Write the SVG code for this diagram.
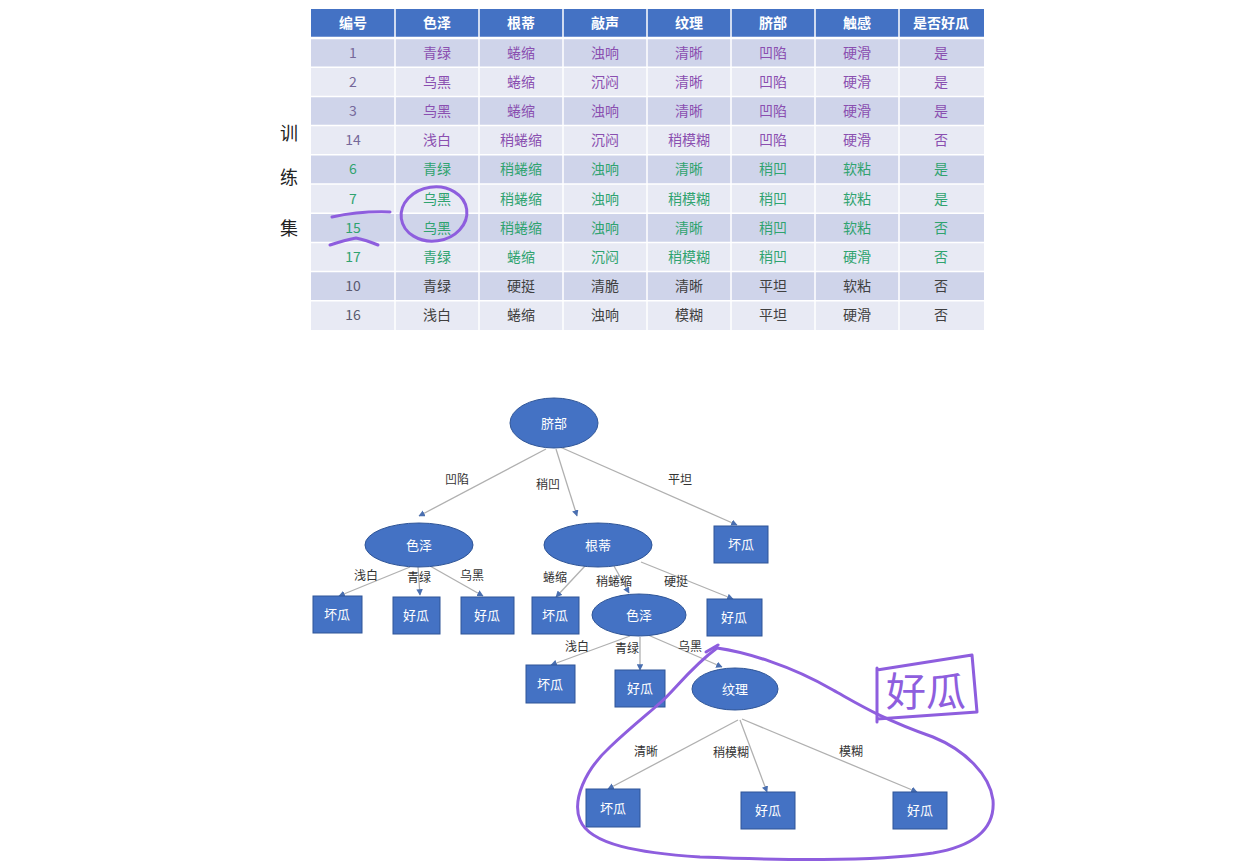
<svg xmlns="http://www.w3.org/2000/svg" width="1253" height="866" viewBox="0 0 1253 866">
<defs>
<style>
.cjk{font-family:"Noto Sans CJK SC","Noto Sans",sans-serif}
.th{font-family:"Noto Sans CJK SC",sans-serif;font-size:14px;font-weight:bold;fill:#fff;text-anchor:middle}
.td{font-family:"Noto Sans CJK SC",sans-serif;font-size:14px;text-anchor:middle}
.p{fill:#8a4fb0}
.g{fill:#2fa36f}
.k{fill:#404040}
.rd{fill:#cfd4ea}
.rl{fill:#e8eaf4}
.node{fill:#4472c4;stroke:#2f5597;stroke-width:1}
.nt{font-family:"Noto Sans CJK SC",sans-serif;font-size:13px;fill:#fff;text-anchor:middle}
.el{font-family:"Noto Sans CJK SC",sans-serif;font-size:12px;fill:#333;text-anchor:middle}
.ln{stroke:#b0b0b0;stroke-width:1.3;fill:none;marker-end:url(#ah)}
.hand{stroke:#8e5ede;stroke-width:3;fill:none;stroke-linecap:round;stroke-linejoin:round}
</style>
<marker id="ah" viewBox="0 0 10 10" refX="9" refY="5" markerWidth="5" markerHeight="5" orient="auto"><path d="M0,0 L10,5 L0,10 z" fill="#4a6fb0"/></marker>
</defs>
<rect width="1253" height="866" fill="#ffffff"/>

<g id="table">
<rect x="311" y="9" width="673" height="29" fill="#4472c4"/>
<rect class="rd" x="311" y="38" width="673" height="29.2"/>
<rect class="rl" x="311" y="67.2" width="673" height="29.2"/>
<rect class="rd" x="311" y="96.4" width="673" height="29.2"/>
<rect class="rl" x="311" y="125.6" width="673" height="29.2"/>
<rect class="rd" x="311" y="154.8" width="673" height="29.2"/>
<rect class="rl" x="311" y="184" width="673" height="29.2"/>
<rect class="rd" x="311" y="213.2" width="673" height="29.2"/>
<rect class="rl" x="311" y="242.4" width="673" height="29.2"/>
<rect class="rd" x="311" y="271.6" width="673" height="29.2"/>
<rect class="rl" x="311" y="300.8" width="673" height="29.2"/>
<g stroke="#ffffff" stroke-width="1.5">
<line x1="395" y1="9" x2="395" y2="330"/><line x1="479" y1="9" x2="479" y2="330"/><line x1="563" y1="9" x2="563" y2="330"/><line x1="647" y1="9" x2="647" y2="330"/><line x1="731" y1="9" x2="731" y2="330"/><line x1="815" y1="9" x2="815" y2="330"/><line x1="899" y1="9" x2="899" y2="330"/>
<line x1="311" y1="38" x2="984" y2="38" stroke-width="2.5"/>
<line x1="311" y1="67.2" x2="984" y2="67.2"/><line x1="311" y1="96.4" x2="984" y2="96.4"/><line x1="311" y1="125.6" x2="984" y2="125.6"/><line x1="311" y1="154.8" x2="984" y2="154.8"/><line x1="311" y1="184" x2="984" y2="184"/><line x1="311" y1="213.2" x2="984" y2="213.2"/><line x1="311" y1="242.4" x2="984" y2="242.4"/><line x1="311" y1="271.6" x2="984" y2="271.6"/><line x1="311" y1="300.8" x2="984" y2="300.8"/>
</g>
<g class="th">
<text x="353" y="28">编号</text><text x="437" y="28">色泽</text><text x="521" y="28">根蒂</text><text x="605" y="28">敲声</text><text x="689" y="28">纹理</text><text x="773" y="28">脐部</text><text x="857" y="28">触感</text><text x="941" y="28">是否好瓜</text>
</g>
<g class="td p">
<text x="353" y="58" fill="#75689a">1</text><text x="437" y="58">青绿</text><text x="521" y="58">蜷缩</text><text x="605" y="58">浊响</text><text x="689" y="58">清晰</text><text x="773" y="58">凹陷</text><text x="857" y="58">硬滑</text><text x="941" y="58">是</text>
<text x="353" y="87" fill="#75689a">2</text><text x="437" y="87">乌黑</text><text x="521" y="87">蜷缩</text><text x="605" y="87">沉闷</text><text x="689" y="87">清晰</text><text x="773" y="87">凹陷</text><text x="857" y="87">硬滑</text><text x="941" y="87">是</text>
<text x="353" y="116" fill="#75689a">3</text><text x="437" y="116">乌黑</text><text x="521" y="116">蜷缩</text><text x="605" y="116">浊响</text><text x="689" y="116">清晰</text><text x="773" y="116">凹陷</text><text x="857" y="116">硬滑</text><text x="941" y="116">是</text>
<text x="353" y="145" fill="#75689a">14</text><text x="437" y="145">浅白</text><text x="521" y="145">稍蜷缩</text><text x="605" y="145">沉闷</text><text x="689" y="145">稍模糊</text><text x="773" y="145">凹陷</text><text x="857" y="145">硬滑</text><text x="941" y="145">否</text>
</g>
<g class="td g">
<text x="353" y="174">6</text><text x="437" y="174">青绿</text><text x="521" y="174">稍蜷缩</text><text x="605" y="174">浊响</text><text x="689" y="174">清晰</text><text x="773" y="174">稍凹</text><text x="857" y="174">软粘</text><text x="941" y="174">是</text>
<text x="353" y="204">7</text><text x="437" y="204">乌黑</text><text x="521" y="204">稍蜷缩</text><text x="605" y="204">浊响</text><text x="689" y="204">稍模糊</text><text x="773" y="204">稍凹</text><text x="857" y="204">软粘</text><text x="941" y="204">是</text>
<text x="353" y="233">15</text><text x="437" y="233">乌黑</text><text x="521" y="233">稍蜷缩</text><text x="605" y="233">浊响</text><text x="689" y="233">清晰</text><text x="773" y="233">稍凹</text><text x="857" y="233">软粘</text><text x="941" y="233">否</text>
<text x="353" y="262">17</text><text x="437" y="262">青绿</text><text x="521" y="262">蜷缩</text><text x="605" y="262">沉闷</text><text x="689" y="262">稍模糊</text><text x="773" y="262">稍凹</text><text x="857" y="262">硬滑</text><text x="941" y="262">否</text>
</g>
<g class="td k">
<text x="353" y="291" fill="#5a5a70">10</text><text x="437" y="291">青绿</text><text x="521" y="291">硬挺</text><text x="605" y="291">清脆</text><text x="689" y="291">清晰</text><text x="773" y="291">平坦</text><text x="857" y="291">软粘</text><text x="941" y="291">否</text>
<text x="353" y="320" fill="#5a5a70">16</text><text x="437" y="320">浅白</text><text x="521" y="320">蜷缩</text><text x="605" y="320">浊响</text><text x="689" y="320">模糊</text><text x="773" y="320">平坦</text><text x="857" y="320">硬滑</text><text x="941" y="320">否</text>
</g>
</g>

<g id="set-label" class="cjk" font-size="18" fill="#222" text-anchor="middle">
<text x="289" y="140">训</text><text x="289" y="184">练</text><text x="289" y="235">集</text>
</g>

<g id="connectors">
<line class="ln" x1="546" y1="449" x2="419" y2="516"/>
<line class="ln" x1="556" y1="449" x2="577" y2="516"/>
<line class="ln" x1="560" y1="447" x2="737" y2="525"/>
<line class="ln" x1="410" y1="567" x2="339" y2="596"/>
<line class="ln" x1="418" y1="567" x2="420" y2="595"/>
<line class="ln" x1="430" y1="566" x2="483" y2="596"/>
<line class="ln" x1="585" y1="566" x2="556" y2="597"/>
<line class="ln" x1="614" y1="566" x2="629" y2="593"/>
<line class="ln" x1="641" y1="562" x2="733" y2="599"/>
<line class="ln" x1="630" y1="636" x2="551" y2="665"/>
<line class="ln" x1="640" y1="637" x2="640" y2="670"/>
<line class="ln" x1="648" y1="635" x2="722" y2="667"/>
<line class="ln" x1="738" y1="720" x2="608" y2="789"/>
<line class="ln" x1="740" y1="720" x2="767" y2="792"/>
<line class="ln" x1="742" y1="719" x2="917" y2="792"/>
<g class="el">
<text x="457" y="484">凹陷</text><text x="548" y="489">稍凹</text><text x="680" y="484">平坦</text>
<text x="366" y="580">浅白</text><text x="419" y="582">青绿</text><text x="472" y="580">乌黑</text>
<text x="555" y="582">蜷缩</text><text x="614" y="586">稍蜷缩</text><text x="676" y="586">硬挺</text>
<text x="577" y="651">浅白</text><text x="627" y="653">青绿</text><text x="690" y="651">乌黑</text>
<text x="646" y="756">清晰</text><text x="731" y="757">稍模糊</text><text x="851" y="756">模糊</text>
</g>
</g>

<g id="n-root"><ellipse class="node" cx="554" cy="423" rx="44" ry="25"/><text class="nt" x="554" y="428">脐部</text></g>
<g id="n-color1"><ellipse class="node" cx="419" cy="545" rx="54" ry="22"/><text class="nt" x="419" y="550">色泽</text></g>
<g id="n-root2"><ellipse class="node" cx="598" cy="545" rx="54" ry="22"/><text class="nt" x="598" y="550">根蒂</text></g>
<g id="n-flat"><rect class="node" x="714" y="526" width="54" height="37"/><text class="nt" x="741" y="549">坏瓜</text></g>
<g id="n-l1"><rect class="node" x="313" y="596" width="49" height="37"/><text class="nt" x="337" y="619">坏瓜</text></g>
<g id="n-l2"><rect class="node" x="393" y="597" width="47" height="37"/><text class="nt" x="416" y="620">好瓜</text></g>
<g id="n-l3"><rect class="node" x="461" y="597" width="53" height="37"/><text class="nt" x="487" y="620">好瓜</text></g>
<g id="n-l4"><rect class="node" x="532" y="597" width="47" height="37"/><text class="nt" x="555" y="620">坏瓜</text></g>
<g id="n-color2"><ellipse class="node" cx="639" cy="615" rx="47" ry="21"/><text class="nt" x="639" y="620">色泽</text></g>
<g id="n-l5"><rect class="node" x="707" y="599" width="55" height="37"/><text class="nt" x="734" y="622">好瓜</text></g>
<g id="n-l6"><rect class="node" x="526" y="665" width="49" height="38"/><text class="nt" x="550" y="689">坏瓜</text></g>
<g id="n-l7"><rect class="node" x="615" y="670" width="50" height="37"/><text class="nt" x="640" y="693">好瓜</text></g>
<g id="n-texture"><ellipse class="node" cx="735" cy="689" rx="43" ry="21"/><text class="nt" x="735" y="694">纹理</text></g>
<g id="n-l8"><rect class="node" x="586" y="789" width="54" height="38"/><text class="nt" x="613" y="813">坏瓜</text></g>
<g id="n-l9"><rect class="node" x="741" y="792" width="54" height="37"/><text class="nt" x="768" y="815">好瓜</text></g>
<g id="n-l10"><rect class="node" x="893" y="792" width="54" height="37"/><text class="nt" x="920" y="815">好瓜</text></g>

<g id="annotations">
<ellipse class="hand" cx="434" cy="214" rx="33" ry="27" transform="rotate(-8 434 214)"/>
<path class="hand" d="M332,217 Q360,211 390,212"/>
<path class="hand" d="M330,245 Q345,240 356,238 Q366,240 378,245"/>
<path class="hand" d="M706,652 L718,645"/>
<path class="hand" d="M717,648 C745,652 790,665 833,690 C860,705 880,718 933,737 C965,750 990,775 993,800 C995,825 980,845 933,853 C870,862 780,860 700,857 C640,853 590,845 580,820 C572,800 585,770 610,747 C630,728 650,712 660,703 C675,690 690,668 717,648"/>
<path class="hand" d="M877,670 L972,655 L977,712 L877,719 M877,668 L877,722"/>
<text x="926" y="706" class="cjk" font-size="40" fill="#8e5ede" text-anchor="middle">好瓜</text>
</g>
</svg>
